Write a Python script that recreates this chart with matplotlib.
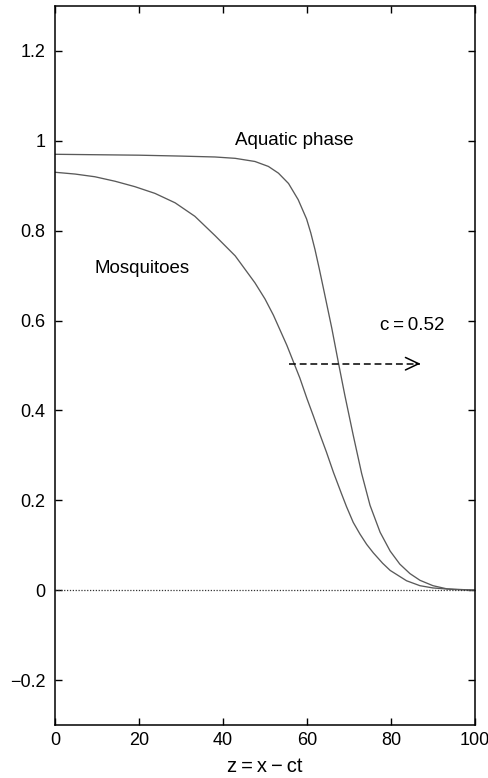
import matplotlib
matplotlib.use("Agg")
import matplotlib.pyplot as plt
from matplotlib.ticker import FixedLocator, FuncFormatter

plt.rcParams['font.family'] = ['Liberation Sans', 'DejaVu Sans']

# Data
aquatic_z = [0, 20, 30, 38.1, 42.9, 47.6, 50.8, 53.2, 55.6, 57.9, 59.9, 60.9, 61.9,
             62.9, 63.9, 65.9, 67.5, 69.0, 71.0, 73.0, 75.0, 77.4, 79.8, 82.1, 84.5,
             86.9, 90, 93.3, 100]
aquatic_v = [0.970, 0.968, 0.966, 0.964, 0.961, 0.954, 0.943, 0.928, 0.905, 0.869,
             0.826, 0.795, 0.758, 0.716, 0.672, 0.583, 0.505, 0.434, 0.345, 0.260,
             0.189, 0.129, 0.087, 0.058, 0.037, 0.022, 0.010, 0.003, 0.0]

mosq_z = [0, 4.8, 9.5, 14.3, 19.0, 23.8, 28.6, 33.3, 38.1, 42.9, 44.0, 47.6, 50.0,
          52.0, 55.2, 58.3, 60.0, 61.5, 63.1, 64.6, 66.3, 68.2, 69.4, 71.0, 72.6,
          74.2, 75.8, 78.0, 79.8, 83.7, 86.9, 90, 95, 100]
mosq_v = [0.930, 0.926, 0.920, 0.910, 0.898, 0.883, 0.862, 0.832, 0.789, 0.744,
          0.730, 0.684, 0.648, 0.612, 0.545, 0.472, 0.426, 0.388, 0.346, 0.308,
          0.262, 0.215, 0.186, 0.151, 0.125, 0.102, 0.083, 0.060, 0.044, 0.021,
          0.010, 0.005, 0.0015, 0.0]

x_ticks = [0, 20, 40, 60, 80, 100]
y_ticks = [-0.2, 0, 0.2, 0.4, 0.6, 0.8, 1, 1.2]
arrow_z = [55.8, 87]
arrow_v = [0.504, 0.504]

fig = plt.figure(figsize=(4.89, 7.78), dpi=100)
ax = fig.add_axes([0.1125, 0.0681, 0.9714 - 0.1125, 0.9923 - 0.0681])

ax.plot(aquatic_z, aquatic_v, color='#5a5a5a', lw=0.95)
ax.plot(mosq_z, mosq_v, color='#5a5a5a', lw=0.95)
ax.plot([0, 100], [0, 0], color='#333333', lw=0.9, linestyle=(0, (1, 1.3)))

# dashed shaft + solid open head
ax.plot(arrow_z, arrow_v, color='black', lw=1.1, linestyle=(0, (4.5, 2.5)))
ax.annotate('', xy=(arrow_z[1], arrow_v[1]), xytext=(arrow_z[1] - 1.0, arrow_v[1]),
            arrowprops=dict(arrowstyle='->,head_length=0.95,head_width=0.45',
                            color='black', lw=1.1, shrinkA=0, shrinkB=0))

ax.text(57, 1.0, 'Aquatic phase', ha='center', va='center', fontsize=13.5)
ax.text(20.8, 0.715, 'Mosquitoes', ha='center', va='center', fontsize=13.5)
ax.text(85, 0.59, 'c\u2009=\u20090.52', ha='center', va='center', fontsize=13.5)

ax.set_xlim(0, 100)
ax.set_ylim(-0.3, 1.3)
ax.xaxis.set_major_locator(FixedLocator(x_ticks))
ax.yaxis.set_major_locator(FixedLocator(y_ticks))

def yfmt(v, pos):
    s = ('%g' % round(v, 2))
    return s.replace('-', '\u2212')

ax.yaxis.set_major_formatter(FuncFormatter(yfmt))
ax.tick_params(direction='in', length=5, width=1.0, top=True, right=True,
               labelsize=13)
ax.tick_params(axis='y', pad=7)
ax.tick_params(axis='x', pad=5)
for sp in ax.spines.values():
    sp.set_linewidth(1.1)

ax.set_xlabel('z\u2009=\u2009x\u2009\u2212\u2009ct', fontsize=14.5, labelpad=6)

fig.savefig('out.png', dpi=100)
